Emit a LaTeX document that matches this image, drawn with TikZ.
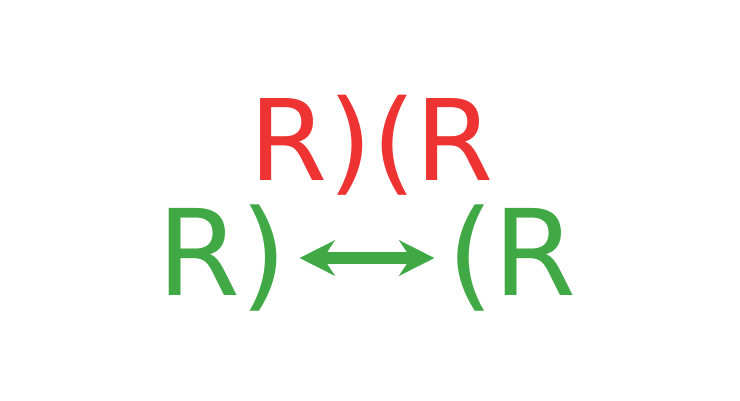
\documentclass[tikz,border=0pt]{standalone}
\usepackage{fontspec}
\setmainfont{DejaVu Sans}
\usetikzlibrary{arrows.meta}
\definecolor{redink}{HTML}{EE3333}
\definecolor{greenink}{HTML}{40A844}
\begin{document}
\begin{tikzpicture}[
  redword/.style={text=redink, font=\fontsize{32}{36}\selectfont, inner sep=0pt},
  greenword/.style={text=greenink, font=\fontsize{34}{38}\selectfont, inner sep=0pt}]
\useasboundingbox (0,0) rectangle (7.4,4.0);
\node[redword]   (top)   at (3.72,2.55) {R)(R};
\node[greenword] (left)  at (2.22,1.42) {R)};
\node[greenword] (right) at (5.12,1.42) {(R};

\draw[greenink, line width=3.2pt, {Stealth[length=10pt,width=10pt]}-{Stealth[length=10pt,width=10pt]}]
  (left.east) ++(0.12,0) coordinate (a) -- ([xshift=-0.12cm]right.west |- a);
\end{tikzpicture}
\end{document}
